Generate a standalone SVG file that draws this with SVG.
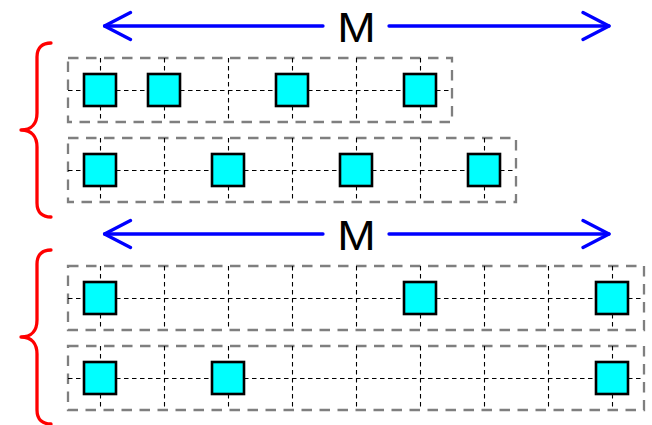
<svg xmlns="http://www.w3.org/2000/svg" width="652" height="425" viewBox="0 0 652 425">
  <style>
    .box { fill: none; stroke: #7f7f7f; stroke-width: 2.3; stroke-dasharray: 10.5 7.5; }
    .grid { fill: none; stroke: #000; stroke-width: 1.1; stroke-dasharray: 4.5 3.5; }
    .node rect { fill: #00ffff; stroke: #000; stroke-width: 2.6; }
    .dim { fill: none; stroke: #0000ff; stroke-width: 3.3; stroke-linecap: round; }
    .dim-label { font-family: "Liberation Sans", Arial, sans-serif; font-size: 42px; fill: #000; text-anchor: middle; }
    .brace { fill: none; stroke: #ff0000; stroke-width: 3.3; stroke-linecap: round; stroke-linejoin: round; }
  </style>
  <defs>
    <marker id="chevron" viewBox="-30 -16 32 32" refX="0" refY="0" markerWidth="32" markerHeight="32" markerUnits="userSpaceOnUse" orient="auto-start-reverse">
      <path d="M-26,-13.5 L0,0 L-26,13.5" fill="none" stroke="#0000ff" stroke-width="3.3" stroke-linecap="round" stroke-linejoin="round"/>
    </marker>
  </defs>

  <rect width="652" height="425" fill="#fff"/>

  <!-- row containers with their dashed slot grids -->
  <g id="row1">
    <rect class="box" x="68" y="58" width="384" height="64"/>
    <path class="grid" d="M68,90.5 H452 M100.5,58 v64 M164.5,58 v64 M228.5,58 v64 M292.5,58 v64 M356.5,58 v64 M420.5,58 v64"/>
  </g>
  <g id="row2">
    <rect class="box" x="68" y="138" width="448" height="64"/>
    <path class="grid" d="M68,170.5 H516 M100.5,138 v64 M164.5,138 v64 M228.5,138 v64 M292.5,138 v64 M356.5,138 v64 M420.5,138 v64 M484.5,138 v64"/>
  </g>
  <g id="row3">
    <rect class="box" x="68" y="266" width="576" height="64"/>
    <path class="grid" d="M68,298.5 H644 M100.5,266 v64 M164.5,266 v64 M228.5,266 v64 M292.5,266 v64 M356.5,266 v64 M420.5,266 v64 M484.5,266 v64 M548.5,266 v64 M612.5,266 v64"/>
  </g>
  <g id="row4">
    <rect class="box" x="68" y="346" width="576" height="64"/>
    <path class="grid" d="M68,378.5 H644 M100.5,346 v64 M164.5,346 v64 M228.5,346 v64 M292.5,346 v64 M356.5,346 v64 M420.5,346 v64 M484.5,346 v64 M548.5,346 v64 M612.5,346 v64"/>
  </g>

  <!-- occupied slots -->
  <g id="r1n1" class="node"><rect x="84" y="74" width="32" height="32"/></g>
  <g id="r1n2" class="node"><rect x="148" y="74" width="32" height="32"/></g>
  <g id="r1n3" class="node"><rect x="276" y="74" width="32" height="32"/></g>
  <g id="r1n4" class="node"><rect x="404" y="74" width="32" height="32"/></g>

  <g id="r2n1" class="node"><rect x="84" y="154" width="32" height="32"/></g>
  <g id="r2n2" class="node"><rect x="212" y="154" width="32" height="32"/></g>
  <g id="r2n3" class="node"><rect x="340" y="154" width="32" height="32"/></g>
  <g id="r2n4" class="node"><rect x="468" y="154" width="32" height="32"/></g>

  <g id="r3n1" class="node"><rect x="84" y="282" width="32" height="32"/></g>
  <g id="r3n2" class="node"><rect x="404" y="282" width="32" height="32"/></g>
  <g id="r3n3" class="node"><rect x="596" y="282" width="32" height="32"/></g>

  <g id="r4n1" class="node"><rect x="84" y="362" width="32" height="32"/></g>
  <g id="r4n2" class="node"><rect x="212" y="362" width="32" height="32"/></g>
  <g id="r4n3" class="node"><rect x="596" y="362" width="32" height="32"/></g>

  <!-- width dimension arrows -->
  <g id="dimensions">
    <line class="dim" x1="104.5" y1="26" x2="323" y2="26" marker-start="url(#chevron)"/>
    <line class="dim" x1="389" y1="26" x2="609" y2="26" marker-end="url(#chevron)"/>
    <text class="dim-label" x="356.5" y="41.7" textLength="38.5" lengthAdjust="spacingAndGlyphs">M</text>

    <line class="dim" x1="104.5" y1="234" x2="323" y2="234" marker-start="url(#chevron)"/>
    <line class="dim" x1="389" y1="234" x2="609" y2="234" marker-end="url(#chevron)"/>
    <text class="dim-label" x="356.5" y="249.8" textLength="38.5" lengthAdjust="spacingAndGlyphs">M</text>
  </g>

  <!-- group braces -->
  <g id="braces">
    <path class="brace" d="M51,43 C43,43 37,47 37,57 V113 C37,123 32,130 21,130 C32,130 37,137 37,147 V203 C37,213 43,217 51,217"/>
    <path class="brace" d="M51,250 C43,250 37,254 37,264 V320 C37,330 32,337 21,337 C32,337 37,344 37,354 V410 C37,420 43,424 51,424"/>
  </g>
</svg>
